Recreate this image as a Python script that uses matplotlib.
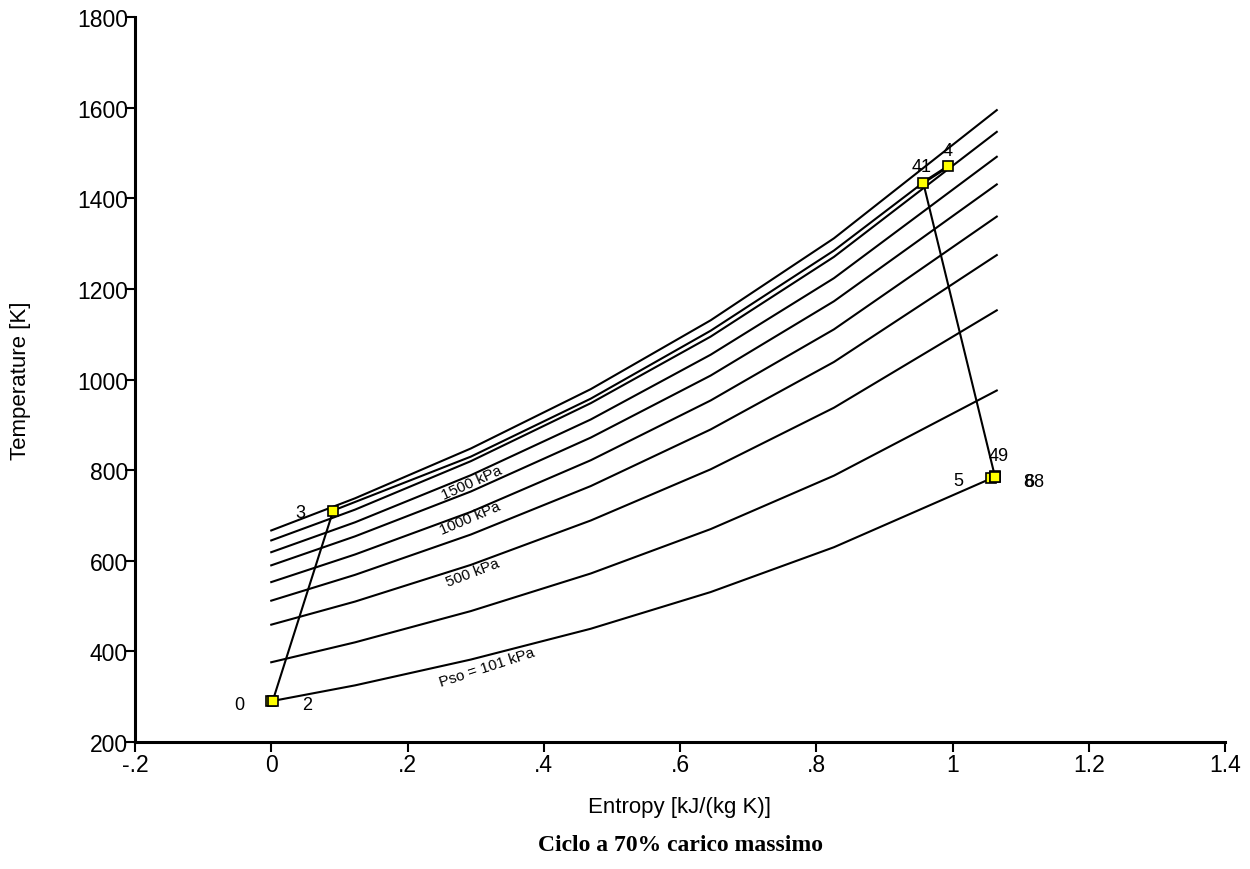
import matplotlib.pyplot as plt
from matplotlib.axes import Axes

ax: Axes

plt.rcParams["font.family"] = ["Liberation Sans", "DejaVu Sans"]

# Isobare (entropia [kJ/(kg K)], temperatura [K])
s_iso = [0.0, 0.123, 0.293, 0.469, 0.645, 0.826, 1.065]
T_iso = [
    [667, 738, 848, 979, 1131, 1312, 1595],
    [645, 713, 820, 948, 1095, 1271, 1547],
    [619, 685, 789, 912, 1055, 1224, 1492],
    [590, 654, 753, 872, 1009, 1173, 1431],
    [553, 614, 708, 822, 954, 1111, 1360],
    [512, 569, 658, 765, 890, 1039, 1275],
    [459, 510, 591, 689, 802, 938, 1153],
    [376, 420, 489, 572, 670, 788, 976],
]
s_p0 = [0.0, 0.123, 0.293, 0.469, 0.645, 0.826, 1.057]
T_p0 = [290, 325, 382, 450, 531, 630, 782]

# Punti del ciclo
punti = ["0", "2", "3", "41", "4", "49", "5", "68", "8"]
s_punti = [0.0, 0.002, 0.091, 0.957, 0.994, 1.062, 1.057, 1.062, 1.062]
T_punti = [290, 290, 711, 1435, 1471, 788, 782, 784, 784]

# Combustione 3 -> 41
s_comb = [0.091, 0.293, 0.469, 0.645, 0.826, 0.957]
T_comb = [711, 830, 958, 1108, 1285, 1435]

# Etichette delle isobare
iso_label = ["1500 kPa", "1000 kPa", "500 kPa", "Pso = 101 kPa"]
iso_label_s = [0.294, 0.292, 0.295, 0.316]
iso_label_T = [774, 695, 575, 365]
iso_label_rot = [24, 23, 21, 18]

x_ticks = [-0.2, 0, 0.2, 0.4, 0.6, 0.8, 1.0, 1.2, 1.4]
x_ticklabels = ["-.2", "0", ".2", ".4", ".6", ".8", "1", "1.2", "1.4"]
y_ticks = [200, 400, 600, 800, 1000, 1200, 1400, 1600, 1800]

fig = plt.figure(figsize=(12.5, 8.7), dpi=100)
ax = fig.add_axes([0.108, 0.146, 0.872, 0.833])

for T in T_iso:
    ax.plot(s_iso, T, color="black", lw=1.5)
ax.plot(s_p0, T_p0, color="black", lw=1.5)

# Linee del ciclo
ax.plot([s_punti[1], s_punti[2]], [T_punti[1], T_punti[2]], color="black", lw=1.5)
ax.plot(s_comb, T_comb, color="black", lw=1.5)
ax.plot([s_punti[3], s_punti[4]], [T_punti[3], T_punti[4]], color="black", lw=2.2)
ax.plot([s_punti[3], s_punti[5]], [T_punti[3], T_punti[5]], color="black", lw=1.5)
ax.plot(s_punti, T_punti, ls="none", marker="s", ms=7, mfc="#ffff00",
        mec="black", mew=1.2, zorder=5)

# Etichette dei punti (offset in pixel, allineamento)
offset = {"0": (-32, -3, "center"), "2": (35, -3, "center"),
          "3": (-33, -2, "center"), "41": (-2, 16, "center"),
          "4": (-1, 16, "center"), "49": (4, 20, "center"),
          "5": (-33, -2, "center"), "68": (29, -4, "left"),
          "8": (29, -4, "left")}
for nome, s, T in zip(punti, s_punti, T_punti):
    dx, dy, ha = offset[nome]
    ax.annotate(nome, (s, T), xytext=(dx, dy), textcoords="offset pixels",
                ha=ha, va="center", fontsize=13)

for txt, s, T, r in zip(iso_label, iso_label_s, iso_label_T, iso_label_rot):
    ax.text(s, T, txt, rotation=r, ha="center", va="center", fontsize=11,
            rotation_mode="anchor")

ax.set_xlim(-0.2, 1.4)
ax.set_ylim(200, 1800)
ax.set_xticks(x_ticks)
ax.set_xticklabels(x_ticklabels)
ax.set_yticks(y_ticks)
ax.spines["top"].set_visible(False)
ax.spines["right"].set_visible(False)
ax.spines["left"].set_linewidth(2.2)
ax.spines["bottom"].set_linewidth(2.2)
ax.tick_params(axis="both", direction="out", length=7, width=1.5,
               labelsize=16.5)
ax.tick_params(axis="x", pad=1)
ax.tick_params(axis="y", pad=-2)

ax.set_xlabel("Entropy [kJ/(kg K)]", fontsize=16, labelpad=14)
ax.set_ylabel("Temperature [K]", fontsize=16, labelpad=33)

fig.text(0.544, 0.022, "Ciclo a 70% carico massimo", ha="center",
         fontsize=17, fontweight="bold", family="Liberation Serif")

plt.savefig("out.png", dpi=100)
